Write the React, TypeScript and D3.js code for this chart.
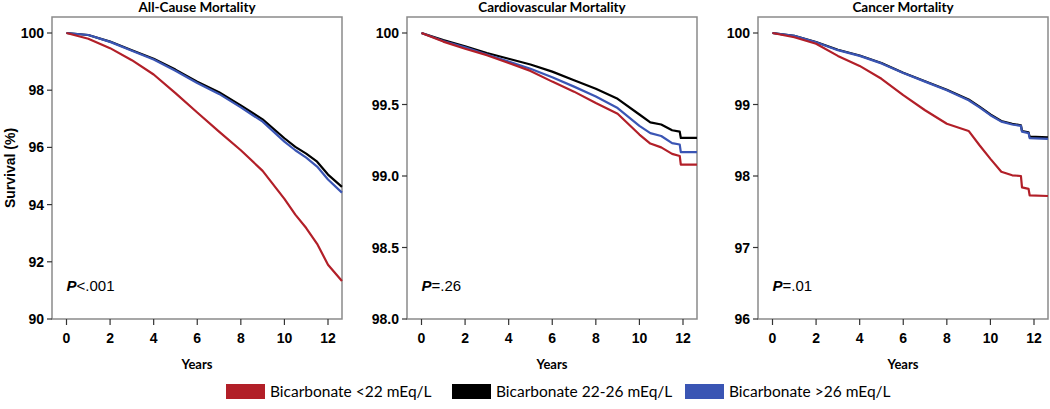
import React from 'react';
import * as d3 from 'd3';

// time points (years) and survival (%)
const allCauseYears = [0, 1, 2, 3, 4, 5, 6, 7, 8, 9, 10, 10.5, 11, 11.5, 12, 12.64];
const allCauseLow = [100, 99.8, 99.47, 99.05, 98.55, 97.9, 97.22, 96.55, 95.9, 95.18, 94.2, 93.65, 93.18, 92.63, 91.9, 91.33];
const allCauseMid = [100, 99.93, 99.7, 99.4, 99.1, 98.72, 98.3, 97.93, 97.47, 96.98, 96.32, 96.02, 95.78, 95.5, 95.05, 94.62];
const allCauseHigh = [100, 99.93, 99.69, 99.38, 99.07, 98.68, 98.25, 97.87, 97.4, 96.9, 96.2, 95.9, 95.64, 95.33, 94.88, 94.42];

const cvYears = [0, 1, 2, 3, 4, 5, 6, 7, 8, 9, 10, 10.5, 11, 11.5, 11.85, 11.9, 12.64];
const cvLow = [100, 99.94, 99.89, 99.845, 99.79, 99.735, 99.66, 99.59, 99.51, 99.435, 99.29, 99.227, 99.2, 99.155, 99.14, 99.08, 99.08];
const cvMid = [100, 99.95, 99.907, 99.86, 99.82, 99.78, 99.73, 99.67, 99.61, 99.54, 99.43, 99.375, 99.36, 99.32, 99.31, 99.266, 99.266];
const cvHigh = [100, 99.944, 99.9, 99.85, 99.8, 99.75, 99.69, 99.625, 99.556, 99.475, 99.35, 99.3, 99.28, 99.23, 99.22, 99.167, 99.167];

const cancerYears = [0, 1, 2, 3, 4, 5, 6, 7, 8, 9, 9.5, 10, 10.5, 11, 11.4, 11.45, 11.75, 11.8, 12.64];
const cancerLow = [100, 99.94, 99.85, 99.68, 99.54, 99.36, 99.13, 98.92, 98.73, 98.63, 98.43, 98.24, 98.06, 98.01, 98.0, 97.84, 97.82, 97.73, 97.72];
const cancerMid = [100, 99.96, 99.875, 99.765, 99.685, 99.58, 99.445, 99.325, 99.205, 99.07, 98.97, 98.86, 98.77, 98.73, 98.71, 98.63, 98.61, 98.55, 98.54];
const cancerHigh = [100, 99.96, 99.87, 99.76, 99.68, 99.575, 99.44, 99.32, 99.2, 99.06, 98.96, 98.85, 98.76, 98.72, 98.7, 98.62, 98.6, 98.53, 98.52];

const xTicks = [0, 2, 4, 6, 8, 10, 12];
const allCauseTicks = [90, 92, 94, 96, 98, 100];
const cvTicks = [98, 98.5, 99, 99.5, 100];
const cancerTicks = [96, 97, 98, 99, 100];

const groups = ['Bicarbonate <22 mEq/L', 'Bicarbonate 22-26 mEq/L', 'Bicarbonate >26 mEq/L'];
const colors = ['#b21f28', '#000000', '#3a55b4'];

const panels = [
  { title: 'All-Cause Mortality', left: 52, years: allCauseYears, series: [allCauseLow, allCauseMid, allCauseHigh], ticks: allCauseTicks, fmt: d3.format('d'), p: '<.001' },
  { title: 'Cardiovascular Mortality', left: 407, years: cvYears, series: [cvLow, cvMid, cvHigh], ticks: cvTicks, fmt: (v: number) => (v === 100 ? '100' : d3.format('.1f')(v)), p: '=.26' },
  { title: 'Cancer Mortality', left: 758, years: cancerYears, series: [cancerLow, cancerMid, cancerHigh], ticks: cancerTicks, fmt: d3.format('d'), p: '=.01' },
];

const top = 17;
const bottom = 319;
const pw = 290;
const arial = '"Liberation Sans", Arial, sans-serif';
const sans = 'Lato, "Open Sans", sans-serif';

function Panel({ cfg }: { cfg: any }) {
  const x = d3.scaleLinear().domain([0, 12]).range([cfg.left + 14.5, cfg.left + 276]);
  const y = d3.scaleLinear().domain([cfg.ticks[0], 100]).range([bottom, 33]);
  const line = d3.line<number>()
    .x((_, i) => x(cfg.years[i]))
    .y(d => y(d));
  // draw middle group first so the others sit on top
  const order = [1, 2, 0];
  return (
    <g>
      <text x={cfg.left + pw / 2} y={12} textAnchor="middle" fontFamily={sans} fontWeight="bold" fontSize={13.5}>{cfg.title}</text>
      <rect x={cfg.left} y={top} width={pw} height={bottom - top} fill="none" stroke="#8a8a8a" strokeWidth={1.5} />
      {order.map(k => (
        <path key={k} d={line(cfg.series[k]) || ''} fill="none" stroke={colors[k]} strokeWidth={2.2} strokeLinejoin="round" />
      ))}
      {cfg.ticks.map((t: number) => (
        <g key={t}>
          <line x1={cfg.left - 5} x2={cfg.left} y1={y(t)} y2={y(t)} stroke="#333" strokeWidth={1.2} />
          <text x={cfg.left - 8} y={y(t) + 5} textAnchor="end" fontFamily={arial} fontWeight="bold" fontSize={14}>{cfg.fmt(t)}</text>
        </g>
      ))}
      {xTicks.map(t => (
        <g key={t}>
          <line x1={x(t)} x2={x(t)} y1={bottom} y2={bottom + 6} stroke="#333" strokeWidth={1.2} />
          <text x={x(t)} y={343} textAnchor="middle" fontFamily={arial} fontWeight="bold" fontSize={14}>{t}</text>
        </g>
      ))}
      <text x={cfg.left + pw / 2} y={369} textAnchor="middle" fontFamily={sans} fontWeight="bold" fontSize={13}>Years</text>
      <text x={x(0)} y={291} fontFamily={arial} fontSize={15}>
        <tspan fontStyle="italic" fontWeight="bold">P</tspan>{cfg.p}
      </text>
    </g>
  );
}

const legendPos = [226, 452, 685];

export default function App() {
  return (
    <svg width={1050} height={409} style={{ position: 'absolute', left: 0, top: 0, background: '#fff' }}>
      {panels.map(p => <Panel key={p.title} cfg={p} />)}
      <text transform="translate(15,168) rotate(-90)" textAnchor="middle" fontFamily={arial} fontWeight="bold" fontSize={14}>Survival (%)</text>
      {groups.map((g, i) => (
        <g key={g}>
          <rect x={legendPos[i]} y={384} width={39} height={15} fill={colors[i]} />
          <text x={legendPos[i] + 44} y={397} fontFamily={sans} fontSize={15.5}>{g}</text>
        </g>
      ))}
    </svg>
  );
}
